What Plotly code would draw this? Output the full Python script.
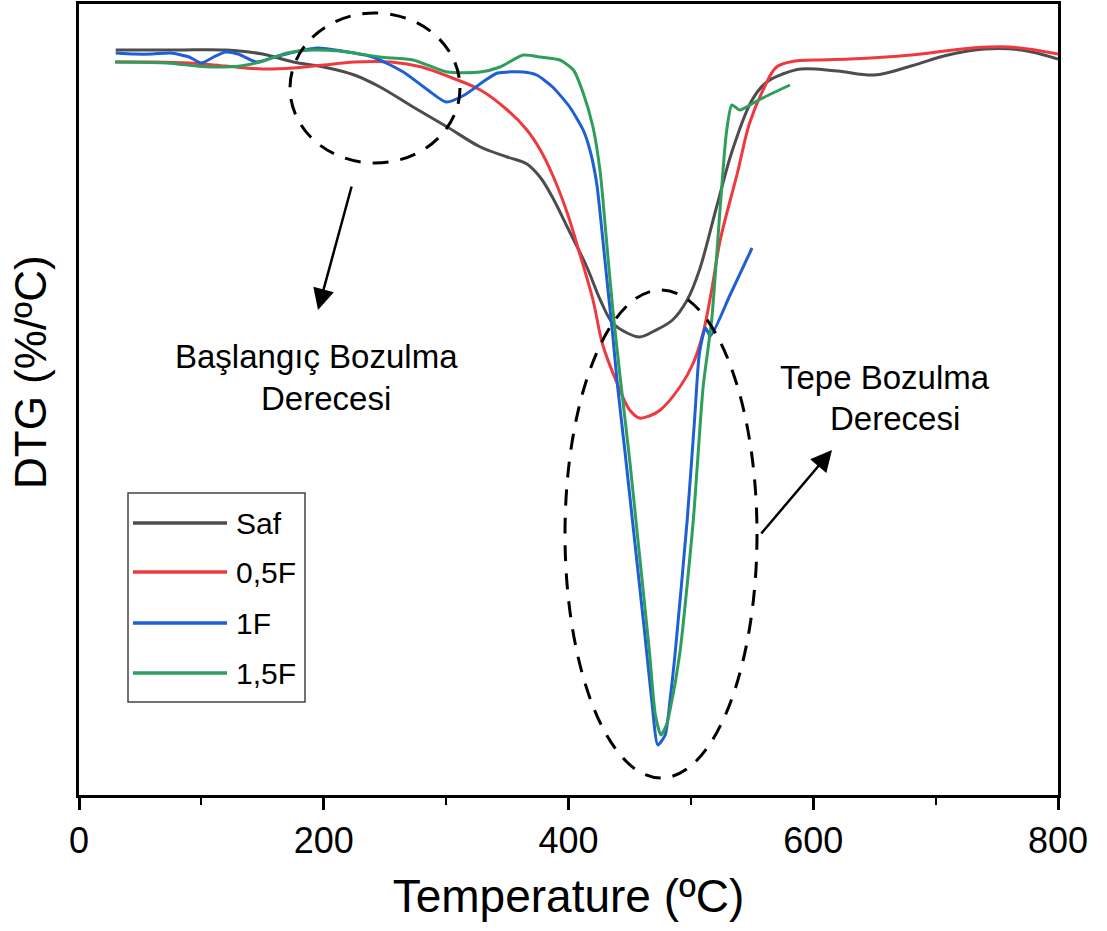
import plotly.graph_objects as go

# ---------------- data (DTG in arbitrary %/ºC units) ----------------
temp_saf = [30, 80, 120, 150, 175, 200, 225, 246, 273, 301, 328, 350, 366, 377, 387, 399, 415, 426,
            436, 448, 458, 470, 485, 497, 507, 521, 534, 550, 562, 575, 590, 620, 650, 680, 710, 740,
            770, 800]
dtg_saf = [0.0, 0.0, 0.0, -0.016, -0.048, -0.068, -0.1, -0.148, -0.228, -0.308, -0.388, -0.428,
           -0.456, -0.51, -0.59, -0.708, -0.868, -1.0, -1.092, -1.132, -1.148, -1.124, -1.08, -1.0,
           -0.88, -0.628, -0.4, -0.2, -0.128, -0.096, -0.076, -0.084, -0.1, -0.064, -0.02, 0.004,
           0.0, -0.036]

temp_05f = [30, 60, 90, 120, 150, 175, 200, 225, 255, 280, 305, 328, 350, 366, 377, 387, 399, 409,
            420, 428, 440, 450, 458, 466, 475, 491, 502, 510, 517, 524, 538, 548, 559, 570, 585, 600,
            630, 680, 730, 760, 800]
dtg_05f = [-0.048, -0.048, -0.052, -0.064, -0.076, -0.072, -0.06, -0.048, -0.048, -0.068, -0.112,
           -0.16, -0.24, -0.32, -0.4, -0.5, -0.652, -0.812, -1.0, -1.18, -1.336, -1.44, -1.472,
           -1.464, -1.44, -1.348, -1.252, -1.132, -0.96, -0.76, -0.492, -0.292, -0.16, -0.068,
           -0.044, -0.04, -0.036, -0.02, 0.008, 0.012, -0.016]

temp_1f = [30, 45, 60, 75, 90, 100, 110, 120, 130, 145, 160, 180, 195, 215, 240, 265, 285, 300, 315,
           330, 342, 363, 374, 387, 401, 412, 417.5, 423, 427, 432, 436, 440, 446, 454, 462, 468, 473,
           479, 483, 487, 497, 503, 507, 512, 516, 532, 550]
dtg_1f = [-0.012, -0.016, -0.016, -0.012, -0.028, -0.052, -0.028, -0.008, -0.016, -0.048, -0.028,
          -0.004, 0.008, -0.004, -0.028, -0.088, -0.16, -0.208, -0.18, -0.128, -0.092, -0.088, -0.1,
          -0.148, -0.228, -0.32, -0.4, -0.532, -0.708, -0.948, -1.132, -1.34, -1.6, -1.96, -2.32,
          -2.6, -2.78, -2.74, -2.6, -2.42, -1.88, -1.48, -1.212, -1.112, -1.144, -0.98, -0.792]

temp_15f = [29.4, 72, 96, 110, 132, 148, 170, 190, 213, 246, 273, 301, 328, 344, 363, 377, 393, 404,
            412, 420, 426, 431, 436, 442, 450, 458, 466, 471, 475.5, 480, 483, 491, 502, 510, 517,
            524, 529, 533.5, 540, 551, 562, 581]
dtg_15f = [-0.048, -0.052, -0.064, -0.068, -0.064, -0.048, -0.012, 0.0, -0.004, -0.028, -0.04,
           -0.088, -0.088, -0.068, -0.02, -0.028, -0.04, -0.08, -0.172, -0.308, -0.492, -0.76,
           -1.028, -1.3, -1.64, -2.02, -2.4, -2.66, -2.74, -2.7, -2.64, -2.412, -1.88, -1.348, -1.08,
           -0.628, -0.332, -0.22, -0.24, -0.212, -0.184, -0.14]

series_names = ["Saf", "0,5F", "1F", "1,5F"]
series_colors = ["#4d4d4d", "#ee3a3e", "#1e5fd6", "#2f9e5c"]
series_smoothing = [1.0, 1.0, 0.6, 0.6]
x_ticks = [0, 200, 400, 600, 800]
x_title = "Temperature (ºC)"
y_title = "DTG (%/ºC)"
note_start = ["Başlangıç Bozulma", "Derecesi"]
note_peak = ["Tepe Bozulma", "Derecesi"]

# ---------------- layout helpers (pixel -> paper) ----------------
W, H = 1107, 931
PL, PR, PT, PB = 79, 1058, 4, 795


def fx(p):
    return (p - PL) / (PR - PL)


def fy(p):
    return (PB - p) / (PB - PT)


fig = go.Figure()
series = [(temp_saf, dtg_saf), (temp_05f, dtg_05f), (temp_1f, dtg_1f), (temp_15f, dtg_15f)]
for (tx, ty), name, col, sm in zip(series, series_names, series_colors, series_smoothing):
    fig.add_trace(go.Scatter(x=tx, y=ty, mode="lines", name=name,
                             line=dict(color=col, width=3, shape="spline", smoothing=sm),
                             showlegend=False))

shapes = []
# dashed ellipses
shapes.append(dict(type="circle", xref="paper", yref="paper", x0=fx(290), x1=fx(460), y0=fy(163),
                   y1=fy(13), line=dict(color="black", width=3, dash="16px,12px")))
shapes.append(dict(type="circle", xref="paper", yref="paper", x0=fx(565), x1=fx(757), y0=fy(778),
                   y1=fy(290), line=dict(color="black", width=3, dash="16px,12px")))
# legend box
shapes.append(dict(type="rect", xref="paper", yref="paper", x0=fx(128), x1=fx(305), y0=fy(702),
                   y1=fy(493), line=dict(color="#444444", width=1.5), fillcolor="white"))

annotations = []
leg_y = [523, 572, 623, 673]
for name, col, yy in zip(series_names, series_colors, leg_y):
    shapes.append(dict(type="line", xref="paper", yref="paper", x0=fx(133), x1=fx(227), y0=fy(yy),
                       y1=fy(yy), line=dict(color=col, width=3.5)))
    annotations.append(dict(text=name, xref="paper", yref="paper", x=fx(234), y=fy(yy),
                            xanchor="left", yanchor="middle", showarrow=False,
                            font=dict(family="Liberation Sans, Arial", size=30, color="black")))

txt_font = dict(family="Liberation Sans, Arial", size=33, color="black")
annotations.append(dict(text=note_start[0], xref="paper", yref="paper", x=fx(316), y=fy(356),
                        xanchor="center", yanchor="middle", showarrow=False, font=txt_font))
annotations.append(dict(text=note_start[1], xref="paper", yref="paper", x=fx(326), y=fy(398),
                        xanchor="center", yanchor="middle", showarrow=False, font=txt_font))
annotations.append(dict(text=note_peak[0], xref="paper", yref="paper", x=fx(885), y=fy(377),
                        xanchor="center", yanchor="middle", showarrow=False, font=txt_font))
annotations.append(dict(text=note_peak[1], xref="paper", yref="paper", x=fx(895), y=fy(418),
                        xanchor="center", yanchor="middle", showarrow=False, font=txt_font))
# arrows
annotations.append(dict(text="", xref="paper", yref="paper", x=fx(318), y=fy(310), ax=34, ay=-125,
                        showarrow=True, arrowhead=2, arrowsize=1.7, arrowwidth=2.5,
                        arrowcolor="black", standoff=0, startstandoff=0))
annotations.append(dict(text="", xref="paper", yref="paper", x=fx(832), y=fy(450), ax=-72, ay=85,
                        showarrow=True, arrowhead=2, arrowsize=1.7, arrowwidth=2.5,
                        arrowcolor="black", standoff=0, startstandoff=0))
# y-axis title
annotations.append(dict(text=y_title, xref="paper", yref="paper", x=fx(30), y=fy(372),
                        xanchor="center", yanchor="middle", textangle=-90, showarrow=False,
                        font=dict(family="Liberation Sans, Arial", size=44, color="black")))

narrow = "Liberation Sans Narrow, Arial Narrow, Liberation Sans"
fig.update_layout(
    width=W, height=H,
    margin=dict(l=PL, r=W - PR, t=PT, b=H - PB, autoexpand=False),
    paper_bgcolor="white", plot_bgcolor="white",
    shapes=shapes, annotations=annotations,
    xaxis=dict(range=[0, 800], tickmode="array", tickvals=x_ticks,
               ticktext=[str(v) for v in x_ticks], ticks="outside", ticklen=12, tickwidth=2.5,
               tickcolor="black", showline=True, linewidth=3, linecolor="black", mirror=True,
               showgrid=False, zeroline=False,
               minor=dict(ticks="outside", ticklen=7, tickwidth=2, tickcolor="black",
                          tickvals=[100, 300, 500, 700]),
               tickfont=dict(family=narrow, size=36, color="black"),
               title=dict(text=x_title, font=dict(family=narrow, size=46, color="black"), standoff=20)),
    yaxis=dict(range=[-2.98, 0.184], showticklabels=False, ticks="", showline=True, linewidth=3,
               linecolor="black", mirror=True, showgrid=False, zeroline=False),
)

fig.write_html("out.html")
